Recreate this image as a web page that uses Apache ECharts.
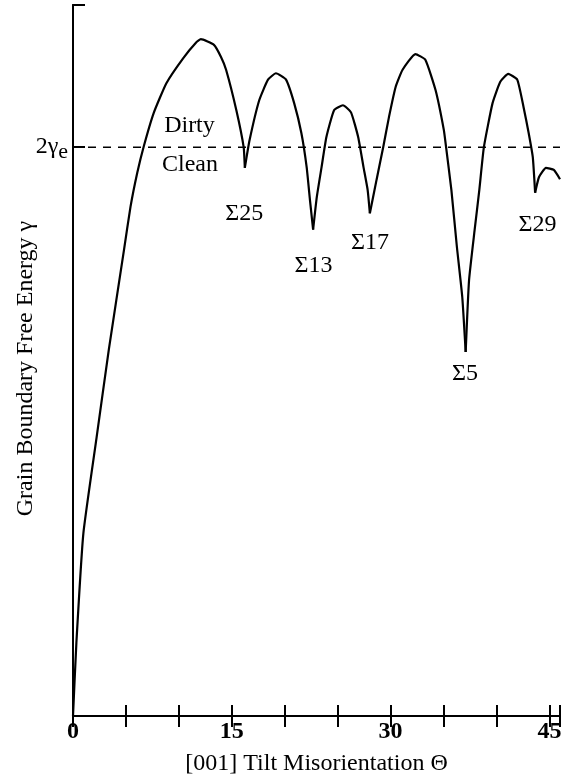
<!DOCTYPE html>
<html>
<head>
<meta charset="utf-8">
<script src="https://cdn.jsdelivr.net/npm/echarts@6/dist/echarts.min.js"></script>
<style>
  html, body { margin: 0; padding: 0; background: #fff; }
  #myChart { width: 563px; height: 778px; }
</style>
</head>
<body>
<div id="myChart"></div>
<script>
let myChart = echarts.init(document.getElementById('myChart'));

const serif = '"Liberation Serif", "DejaVu Serif", serif';

// tilt misorientation (deg) and boundary energy (arbitrary, 2γe = 80)
const theta = [0, 0.32, 0.98, 2.23, 3.38, 4.81, 5.43, 6.07, 6.70, 7.62, 8.82, 10.40, 11.61, 12.08, 13.31, 13.98, 14.46, 15.43, 16.12, 16.23,
  16.68, 17.59, 18.42, 19.17, 20.12, 20.89, 21.57, 22.07, 22.38, 22.68,
  23.03, 23.48, 23.93, 24.66, 25.50, 26.26, 26.94, 27.44, 27.83, 28.04,
  28.67, 29.30, 29.84, 30.48, 31.13, 32.34, 33.28, 34.25, 35.03, 35.24, 35.74, 36.26, 36.77, 37.09,
  37.41, 37.94, 38.38, 38.81, 39.63, 40.36, 41.11, 41.96, 42.55, 43.04, 43.43, 43.65,
  44.02, 44.67, 45.42, 46];
const energy = [0, 10.3, 25.7, 39.2, 51.5, 65.5, 71.6, 76.4, 80.2, 84.8, 89.0, 92.5, 94.7, 95.2, 94.4, 92.7, 90.9, 85.2, 80.0, 77.1,
  81.0, 86.6, 89.5, 90.4, 89.5, 86.2, 82.0, 77.2, 72.6, 68.4,
  73.0, 77.2, 81.4, 85.2, 85.9, 84.9, 81.4, 77.2, 74.0, 70.7,
  75.4, 80.0, 84.2, 88.5, 90.9, 93.1, 92.3, 88.0, 82.4, 80.0, 74.0, 66.0, 58.9, 51.2,
  61.3, 68.4, 74.0, 80.0, 86.2, 89.2, 90.3, 89.5, 85.7, 82.0, 78.6, 73.6,
  75.8, 77.1, 76.8, 75.5];

// cusp positions (special boundaries), the curve is split there
const cusps = [16.23, 22.68, 28.04, 37.09, 43.65];

const twoGammaE = 80;
const xTickLabels = [0, 15, 30, 45];

const notes = ['Dirty', 'Clean', 'Σ25', 'Σ13', 'Σ17', 'Σ5', 'Σ29'];
const noteTheta = [11.0, 11.05, 16.17, 22.71, 28.06, 37.02, 43.87];
const noteEnergy = [83.0, 77.5, 70.6, 63.3, 66.5, 48.1, 69.1];

const black = '#000';
const axisLine = { lineStyle: { color: black, width: 2 } };

// split curve into arches between cusps so that each arch can be smoothed
let arches = [[]];
theta.forEach(function (t, i) {
  arches[arches.length - 1].push([t, energy[i]]);
  if (cusps.indexOf(t) >= 0) {
    arches.push([[t, energy[i]]]);
  }
});

const archSeries = arches.map(function (pts, i) {
  return {
    name: 'energy' + i,
    type: 'line',
    symbol: 'none',
    smooth: 0.15,
    lineStyle: { color: black, width: 2.2 },
    data: pts,
  };
});

let myChartOption = {
  animation: false,
  backgroundColor: '#fff',
  grid: {
    left: 73,
    right: 3,
    top: 5,
    bottom: 62,
    containLabel: false,
    outerBoundsMode: 'none',
  },
  xAxis: [
    {
      type: 'value',
      min: 0,
      max: 46,
      interval: 5,
      position: 'bottom',
      axisLine: axisLine,
      axisTick: { inside: true, length: 11, lineStyle: { color: black, width: 2 } },
      splitLine: { show: false },
      axisLabel: {
        margin: 4,
        color: black,
        fontFamily: serif,
        fontSize: 24,
        fontWeight: 'bold',
        formatter: function (v) {
          return xTickLabels.indexOf(v) >= 0 ? '' + v : '';
        },
      },
      name: '[001] Tilt Misorientation Θ',
      nameLocation: 'middle',
      nameGap: 36,
      nameMoveOverlap: false,
      nameTextStyle: { color: black, fontFamily: serif, fontSize: 24 },
    },
    {
      type: 'value',
      min: 0,
      max: 46,
      interval: 5,
      position: 'top',
      axisLine: axisLine,
      axisTick: { inside: true, length: 11, lineStyle: { color: black, width: 2 } },
      splitLine: { show: false },
      axisLabel: { show: false },
    },
  ],
  yAxis: [
    {
      type: 'value',
      min: 0,
      max: 100,
      interval: 80,
      position: 'left',
      axisLine: axisLine,
      axisTick: { inside: true, length: 12, lineStyle: { color: black, width: 2 } },
      splitLine: { show: false },
      axisLabel: {
        margin: 5,
        color: black,
        formatter: function (v) {
          return v === twoGammaE ? '{a|2γ}{b|e}' : '';
        },
        rich: {
          a: { fontFamily: serif, fontSize: 24, color: black },
          b: { fontFamily: serif, fontSize: 22, color: black, padding: [10, 0, 0, 0] },
        },
      },
      name: 'Grain Boundary Free Energy γ',
      nameLocation: 'middle',
      nameRotate: 90,
      nameGap: 35,
      nameMoveOverlap: false,
      nameTextStyle: { color: black, fontFamily: serif, fontSize: 24, padding: [0, 16, 0, 0] },
    },
    {
      type: 'value',
      min: 0,
      max: 100,
      position: 'right',
      axisLine: axisLine,
      axisTick: { show: false },
      axisLabel: { show: false },
      splitLine: { show: false },
    },
  ],
  series: archSeries.concat([
    {
      name: 'threshold',
      type: 'line',
      symbol: 'none',
      lineStyle: { color: black, width: 1.6, type: [8, 7] },
      data: [[0, twoGammaE], [46, twoGammaE]],
    },
    {
      name: 'notes',
      type: 'scatter',
      symbolSize: 0,
      itemStyle: { color: black, opacity: 1 },
      label: {
        show: true,
        position: 'inside',
        color: black,
        opacity: 1,
        fontFamily: serif,
        fontSize: 24,
        formatter: function (p) {
          return p.name;
        },
      },
      data: notes.map(function (n, i) {
        return { name: n, value: [noteTheta[i], noteEnergy[i]] };
      }),
    },
  ]),
};

myChart.setOption(myChartOption);
</script>
</body>
</html>
